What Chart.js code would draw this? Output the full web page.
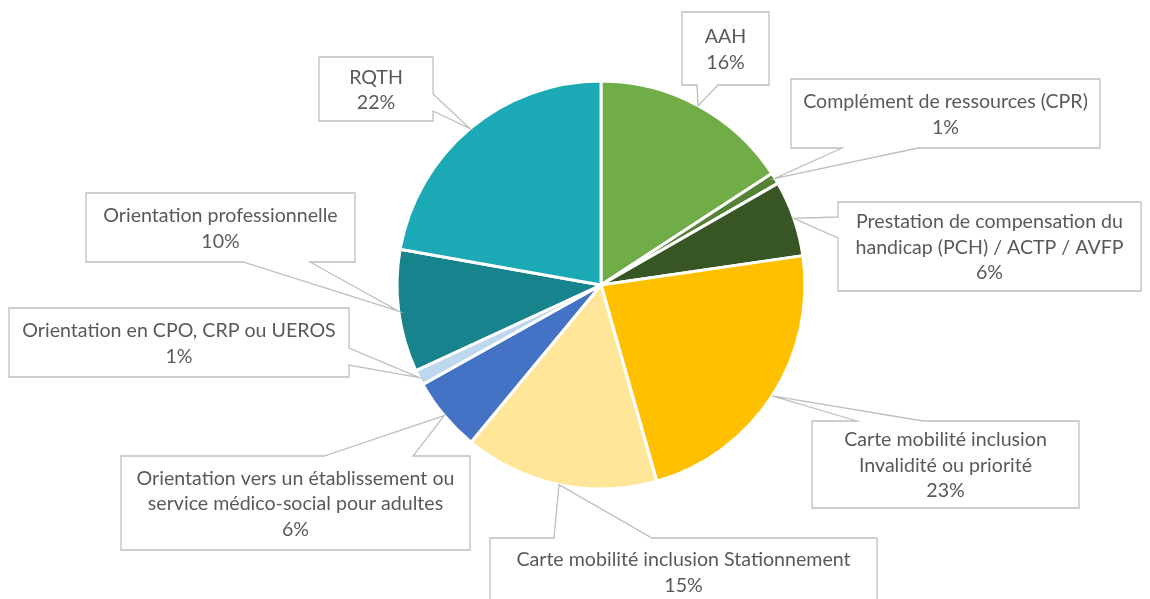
<!DOCTYPE html>
<html>
<head>
<meta charset="utf-8">
<script src="https://cdn.jsdelivr.net/npm/chart.js@4.4.1/dist/chart.umd.min.js"></script>
<style>
  html, body { margin: 0; padding: 0; background: #fff; }
  #wrap { width: 1150px; height: 599px; position: relative; }
</style>
</head>
<body>
<div id="wrap"><canvas id="myChart"></canvas></div>
<script>
// categories (one array entry per text line of the label)
const categories = [
    ['AAH'],
    ['Complément de ressources (CPR)'],
    ['Prestation de compensation du', 'handicap (PCH) / ACTP / AVFP'],
    ['Carte mobilité inclusion', 'Invalidité ou priorité'],
    ['Carte mobilité inclusion Stationnement'],
    ['Orientation vers un établissement ou', 'service médico-social pour adultes'],
    ['Orientation en CPO, CRP ou UEROS'],
    ['Orientation professionnelle'],
    ['RQTH']
];
// share of requests, in %
const shares = [15.8, 0.9, 6.0, 22.9, 15.4, 5.9, 1.2, 9.7, 22.2];
const colors = ['#70AD47', '#548235', '#375623', '#FFC000', '#FFE699', '#4472C4', '#BDD7EE', '#17838C', '#1AA9B5'];

// callout boxes: x, y, w, h, side of the pointer, and where the pointer leaves that side
const callouts = [
    { x: 682, y: 12, w: 87, h: 73, side: 'bottom', a: 697, b: 718 },
    { x: 791, y: 79, w: 309, h: 69, side: 'bottom', a: 842, b: 918 },
    { x: 838, y: 202, w: 303, h: 89, side: 'left', a: 217, b: 238 },
    { x: 812, y: 421, w: 267, h: 87, side: 'top', a: 857, b: 923 },
    { x: 490, y: 538, w: 387, h: 67, side: 'top', a: 554, b: 652 },
    { x: 121, y: 456, w: 349, h: 94, side: 'top', a: 324, b: 413 },
    { x: 9, y: 308, w: 340, h: 69, side: 'right', a: 348, b: 365 },
    { x: 86, y: 193, w: 269, h: 69, side: 'bottom', a: 243, b: 310 },
    { x: 319, y: 57, w: 114, h: 64, side: 'right', a: 94, b: 111 }
];

const calloutPlugin = {
    id: 'callouts',
    afterDatasetsDraw(chart) {
        const ctx = chart.ctx;
        const meta = chart.getDatasetMeta(0);
        const data = chart.data.datasets[0].data;
        const total = data.reduce((s, v) => s + v, 0);
        ctx.save();
        meta.data.forEach(function (arc, i) {
            const c = callouts[i];
            const mid = (arc.startAngle + arc.endAngle) / 2;
            const tx = arc.x + arc.outerRadius * Math.cos(mid);
            const ty = arc.y + arc.outerRadius * Math.sin(mid);
            const r = c.x + c.w, btm = c.y + c.h;

            ctx.beginPath();
            ctx.moveTo(c.x, c.y);
            if (c.side === 'top') {
                ctx.lineTo(c.a, c.y); ctx.lineTo(tx, ty); ctx.lineTo(c.b, c.y);
            }
            ctx.lineTo(r, c.y);
            if (c.side === 'right') {
                ctx.lineTo(r, c.a); ctx.lineTo(tx, ty); ctx.lineTo(r, c.b);
            }
            ctx.lineTo(r, btm);
            if (c.side === 'bottom') {
                ctx.lineTo(c.b, btm); ctx.lineTo(tx, ty); ctx.lineTo(c.a, btm);
            }
            ctx.lineTo(c.x, btm);
            if (c.side === 'left') {
                ctx.lineTo(c.x, c.b); ctx.lineTo(tx, ty); ctx.lineTo(c.x, c.a);
            }
            ctx.closePath();
            ctx.fillStyle = '#FFFFFF';
            ctx.fill();
            ctx.lineWidth = 1.3;
            ctx.strokeStyle = '#BFBFBF';
            ctx.stroke();

            const lines = chart.data.labels[i].concat([Math.round(data[i] / total * 100) + '%']);
            const lh = 25.5;
            ctx.fillStyle = '#595959';
            ctx.font = '19.6px Lato';
            ctx.textAlign = 'center';
            ctx.textBaseline = 'middle';
            const cx = c.x + c.w / 2;
            const y0 = c.y + c.h / 2 - (lines.length - 1) * lh / 2 + 1;
            lines.forEach(function (t, k) {
                ctx.fillText(t, cx, y0 + k * lh);
            });
        });
        ctx.restore();
    }
};

var ctx = document.getElementById('myChart');
var myChart = new Chart(ctx, {
    type: 'pie',
    data: {
        labels: categories,
        datasets: [{
            data: shares,
            backgroundColor: colors,
            borderColor: '#FFFFFF',
            borderWidth: 3,
            radius: 204
        }]
    },
    options: {
        responsive: true,
        maintainAspectRatio: false,
        animation: false,
        layout: { padding: { left: 52, right: 0, top: 0, bottom: 29 } },
        plugins: {
            legend: { display: false },
            tooltip: { enabled: false }
        }
    },
    plugins: [calloutPlugin]
});
</script>
</body>
</html>
